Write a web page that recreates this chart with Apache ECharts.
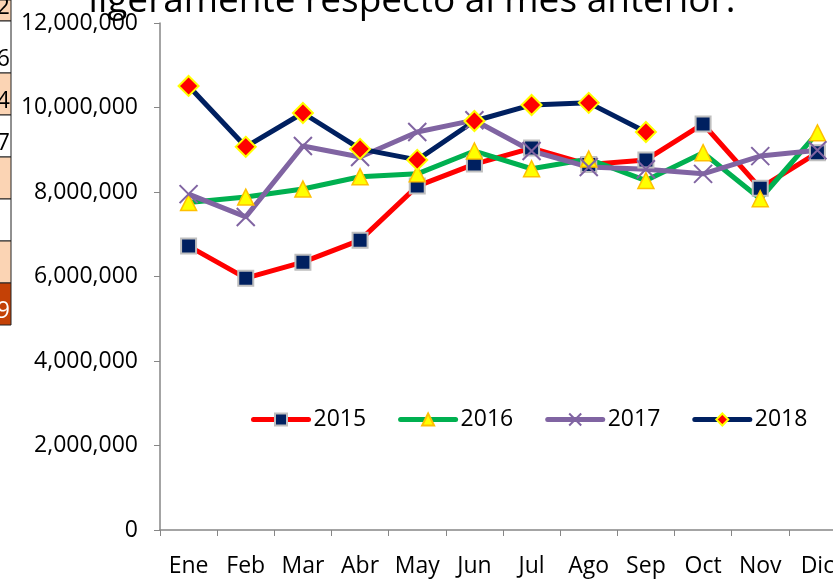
<!DOCTYPE html>
<html lang="es">
<head>
    <meta charset="UTF-8">
    <title>Ventas mensuales 2015-2018</title>
    <script src="https://cdn.jsdelivr.net/npm/echarts@6/dist/echarts.min.js"></script>
    <style>
        html, body { margin: 0; padding: 0; background: #fff; }
        #chart { width: 833px; height: 580px; }
    </style>
</head>
<body>
    <div id="chart"></div>
    <script>
        // datos
        const meses = ['Ene', 'Feb', 'Mar', 'Abr', 'May', 'Jun', 'Jul', 'Ago', 'Sep', 'Oct', 'Nov', 'Dic'];
        const v2015 = [6720000, 5960000, 6340000, 6860000, 8140000, 8660000, 9040000, 8650000, 8760000, 9610000, 8090000, 8930000];
        const v2016 = [7750000, 7880000, 8070000, 8360000, 8430000, 8970000, 8550000, 8780000, 8270000, 8930000, 7840000, 9400000];
        const v2017 = [7950000, 7410000, 9090000, 8830000, 9420000, 9700000, 8970000, 8590000, 8540000, 8430000, 8850000, 8990000];
        const v2018 = [10510000, 9070000, 9870000, 9020000, 8760000, 9680000, 10060000, 10110000, 9420000, null, null, null];
        const anios = ['2015', '2016', '2017', '2018'];
        // restos de la tabla a la izquierda
        const celdas = ['2', '6', '4', '7', '', '', '', '9'];
        const titulo = 'ligeramente respecto al mes anterior.';

        const fuente = 'Open Sans';
        const cruz = 'path://M0,0L10,10M10,0L0,10';

        // celdas de la tabla recortada
        const bordes = [0, 21, 73, 115, 157, 199, 241, 283, 325];
        const graficos = [];
        celdas.forEach((t, i) => {
            const y0 = bordes[i], y1 = bordes[i + 1];
            const fondo = i === 7 ? '#c44106' : (i % 2 === 0 ? '#fbd4b4' : '#ffffff');
            graficos.push({
                type: 'rect',
                shape: { x: -2, y: y0, width: 13, height: y1 - y0 },
                style: { fill: fondo, stroke: '#222', lineWidth: 1 }
            });
            if (t) {
                graficos.push({
                    type: 'text',
                    x: 10, y: y1 - 2,
                    style: {
                        text: t, fill: i === 7 ? '#fff' : '#000',
                        font: '23px "' + fuente + '"',
                        align: 'right', verticalAlign: 'bottom'
                    }
                });
            }
        });
        graficos.push({
            type: 'text',
            x: 412, y: 20,
            style: {
                text: titulo, fill: '#000',
                font: '37px "' + fuente + '"',
                align: 'center', verticalAlign: 'bottom'
            }
        });

        const option = {
            animation: false,
            backgroundColor: '#fff',
            textStyle: { fontFamily: fuente },
            graphic: graficos,
            grid: {
                left: 160, top: 23, width: 686, height: 507,
                containLabel: false, outerBoundsMode: 'none'
            },
            legend: {
                data: anios,
                left: 246, top: 403,
                itemWidth: 55, itemHeight: 15, itemGap: 32,
                lineStyle: { width: 5, cap: 'round' },
                textStyle: { fontSize: 23, color: '#000', fontFamily: fuente }
            },
            xAxis: {
                type: 'category',
                data: meses,
                boundaryGap: true,
                axisLine: { lineStyle: { color: '#868686', width: 1.5 } },
                axisTick: { show: true, length: 6, lineStyle: { color: '#868686' } },
                axisLabel: { fontSize: 23, color: '#000', margin: 25, interval: 0 },
                splitLine: { show: false }
            },
            yAxis: {
                type: 'value',
                min: 0, max: 12000000, interval: 2000000,
                axisLine: { show: true, lineStyle: { color: '#868686', width: 1.5 } },
                axisTick: { show: true, length: 6, lineStyle: { color: '#868686' } },
                axisLabel: {
                    fontSize: 23, color: '#000', margin: 22,
                    formatter: v => v.toLocaleString('en-US')
                },
                splitLine: { show: false }
            },
            series: [
                {
                    name: anios[0], type: 'line', data: v2015,
                    lineStyle: { color: '#ff0000', width: 5 },
                    symbol: 'rect', symbolSize: 15,
                    itemStyle: { color: '#002060', borderColor: '#bfbfbf', borderWidth: 2 }
                },
                {
                    name: anios[1], type: 'line', data: v2016,
                    lineStyle: { color: '#00b050', width: 5 },
                    symbol: 'triangle', symbolSize: 16,
                    itemStyle: { color: '#ffff00', borderColor: '#ffc000', borderWidth: 1.5 }
                },
                {
                    name: anios[2], type: 'line', data: v2017,
                    lineStyle: { color: '#8064a2', width: 5 },
                    symbol: cruz, symbolSize: 18,
                    itemStyle: { color: 'none', borderColor: '#8064a2', borderWidth: 2 }
                },
                {
                    name: anios[3], type: 'line', data: v2018,
                    lineStyle: { color: '#002060', width: 5 },
                    symbol: 'diamond', symbolSize: 20,
                    itemStyle: { color: '#ff0000', borderColor: '#ffff00', borderWidth: 2 }
                }
            ]
        };

        const chart = echarts.init(document.getElementById('chart'));
        chart.setOption(option);
    </script>
</body>
</html>
